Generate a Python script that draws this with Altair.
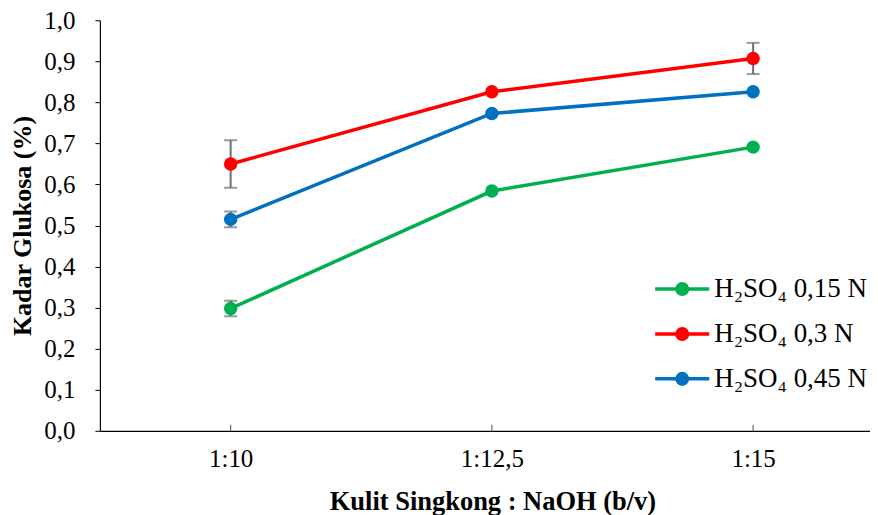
import altair as alt
import pandas as pd

categories = ["1:10", "1:12,5", "1:15"]
series_names = ["H₂SO₄ 0,15 N", "H₂SO₄ 0,3 N", "H₂SO₄ 0,45 N"]
colors = ["#00B050", "#FF0000", "#0070C0"]

glukosa_015 = [0.298, 0.584, 0.691]
glukosa_03 = [0.650, 0.826, 0.907]
glukosa_045 = [0.515, 0.773, 0.826]

err_015 = [0.019, 0.0, 0.0]
err_03 = [0.058, 0.0, 0.038]
err_045 = [0.019, 0.0, 0.0]

y_ticks = [0.0, 0.1, 0.2, 0.3, 0.4, 0.5, 0.6, 0.7, 0.8, 0.9, 1.0]

rows = []
for name, vals, errs in zip(series_names,
                            [glukosa_015, glukosa_03, glukosa_045],
                            [err_015, err_03, err_045]):
    for c, v, e in zip(categories, vals, errs):
        rows.append({"cat": c, "series": name, "value": v, "err": e,
                     "lo": v - e, "hi": v + e})
df = pd.DataFrame(rows)
df_err = df[df["err"] > 0]
df_cat = pd.DataFrame({"cat": categories})

FONT = "Liberation Serif"

x_enc = alt.X("cat:N", sort=categories,
              scale=alt.Scale(type="point", padding=0.474, align=0.528),
              axis=alt.Axis(title="Kulit Singkong : NaOH (b/v)", ticks=False,
                            labelAngle=0, labelPadding=16, titlePadding=17,
                            labelFontSize=25, titleFontSize=26.5,
                            titleX=393))
y_scale = alt.Scale(domain=[0, 1], nice=False, zero=True)
y_axis = alt.Axis(title="Kadar Glukosa (%)", values=y_ticks, tickSize=5,
                  labelPadding=20, titlePadding=8, grid=False,
                  labelFontSize=25, titleFontSize=26,
                  labelExpr="replace(format(datum.value, '.1f'), '.', ',')")

color_scale = alt.Scale(domain=series_names, range=colors)

legend = alt.Legend(title=None, orient="none", legendX=559, legendY=245,
                    labelFont=FONT, labelFontSize=27, labelColor="black",
                    symbolSize=1936,
                    symbolType="M-1.23,0L1.23,0M0.24,0A0.24,0.24,0,1,1,-0.24,0A0.24,0.24,0,1,1,0.24,0Z",
                    symbolStrokeWidth=3.5, rowPadding=8, labelOffset=8)

base = alt.Chart(df)

err_rule = alt.Chart(df_err).mark_rule(color="#6f6f6f", strokeWidth=2).encode(
    x=x_enc, y=alt.Y("lo:Q", scale=y_scale, axis=y_axis), y2="hi:Q")
err_lo = alt.Chart(df_err).mark_tick(color="#6f6f6f", thickness=2, size=13,
                                     orient="horizontal").encode(
    x=alt.X("cat:N", sort=categories), y=alt.Y("lo:Q"))
err_hi = alt.Chart(df_err).mark_tick(color="#6f6f6f", thickness=2, size=13,
                                     orient="horizontal").encode(
    x=alt.X("cat:N", sort=categories), y=alt.Y("hi:Q"))

lines = base.mark_line(strokeWidth=3.5).encode(
    x=alt.X("cat:N", sort=categories),
    y=alt.Y("value:Q"),
    color=alt.Color("series:N", scale=color_scale, legend=legend),
    detail="series:N")

points = base.mark_circle(size=180, opacity=1).encode(
    x=alt.X("cat:N", sort=categories),
    y=alt.Y("value:Q"),
    color=alt.Color("series:N", scale=color_scale, legend=legend))

xticks = alt.Chart(df_cat).mark_tick(orient="vertical", size=6, thickness=1,
                                     color="black", yOffset=-3).encode(
    x=alt.X("cat:N", sort=categories), y=alt.datum(0))

chart = alt.layer(err_rule, err_lo, err_hi, lines, points, xticks).properties(
    width=771, height=411,
    padding={"left": 1, "top": 0, "right": 0, "bottom": 0}
).configure_view(stroke=None).configure_axis(
    labelFont=FONT, titleFont=FONT, labelColor="black", titleColor="black",
    titleFontWeight="bold", domainColor="black", tickColor="black",
    domainWidth=1.2
)

chart.save("out.html", embed_options={"renderer": "svg", "actions": False})
